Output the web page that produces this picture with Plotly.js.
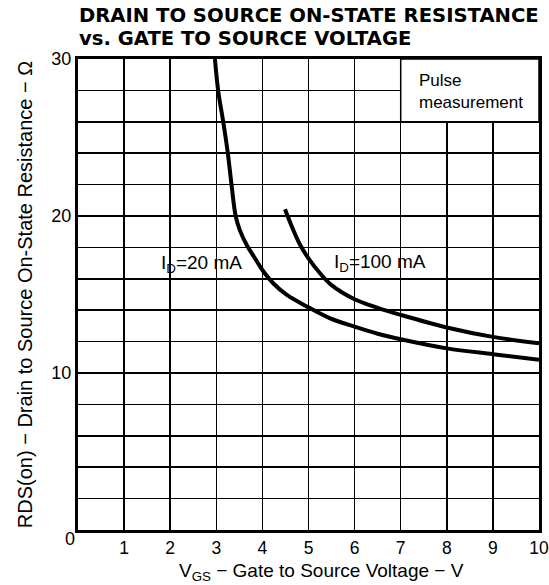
<!DOCTYPE html>
<html>
<head>
<meta charset="utf-8">
<script src="https://cdn.plot.ly/plotly-3.0.1.min.js"></script>
<style>
html,body{margin:0;padding:0;background:#fff;}
#chart{width:549px;height:585px;}
</style>
</head>
<body>
<div id="chart"></div>
<script>
// Data
const vgs20 = [2.97, 3.04, 3.15, 3.25, 3.33, 3.42, 3.51, 3.66, 3.84, 4.0, 4.24, 4.53, 5.0, 5.47, 6.0, 6.5, 7.0, 8.0, 9.0, 10.0];
const rds20 = [30, 28, 26, 24, 22, 20, 19.1, 18.15, 17.3, 16.56, 15.7, 14.97, 14.18, 13.48, 12.95, 12.5, 12.15, 11.57, 11.2, 10.85];
const vgs100 = [4.49, 4.64, 4.82, 5.0, 5.25, 5.5, 6.0, 6.5, 7.0, 8.0, 9.0, 10.0];
const rds100 = [20.43, 19.32, 18.15, 17.3, 16.35, 15.6, 14.7, 14.15, 13.7, 12.9, 12.3, 11.9];

const xTickVals = [1, 2, 3, 4, 5, 6, 7, 8, 9, 10];
const xTickText = ['1', '2', '3', '4', '5', '6', '7', '8', '9', '10'];
const yTickVals = [10, 20, 30];
const yTickText = ['10', '20', '30'];
const originLabel = '0';

const titleLines = ['DRAIN TO SOURCE ON-STATE RESISTANCE', 'vs. GATE TO SOURCE VOLTAGE'];
const xTitle = 'V<sub>GS</sub> − Gate to Source Voltage − V';
const yTitle = 'RDS(on) − Drain to Source On-State Resistance − Ω';
const curveLabels = ['I<sub>D</sub>=20 mA', 'I<sub>D</sub>=100 mA'];
const noteText = 'Pulse<br>measurement';

const labelFont = 'Liberation Sans, Arial, Helvetica, sans-serif';
const lineStyle = {color: '#000', width: 4, shape: 'spline', smoothing: 1};

const traces = [
  {x: vgs20, y: rds20, mode: 'lines', line: lineStyle, name: 'ID = 20 mA', hoverinfo: 'skip'},
  {x: vgs100, y: rds100, mode: 'lines', line: lineStyle, name: 'ID = 100 mA', hoverinfo: 'skip'}
];

const titleFont = {family: 'DejaVu Sans, sans-serif', size: 19.6, weight: 'bold', color: '#000'};

const layout = {
  width: 549, height: 585,
  margin: {l: 78, r: 10, t: 59, b: 55},
  paper_bgcolor: '#fff', plot_bgcolor: '#fff',
  showlegend: false,
  font: {family: labelFont, color: '#000', size: 17},
  xaxis: {
    range: [0, 10], tickmode: 'array', tickvals: xTickVals, ticktext: xTickText,
    showgrid: true, gridcolor: '#000', gridwidth: 1.5, zeroline: false,
    minor: {dtick: 1, showgrid: true, gridcolor: '#000', gridwidth: 1.5},
    showline: true, linecolor: '#000', linewidth: 3, mirror: true,
    ticks: '', tickfont: {size: 17.5},
    fixedrange: true
  },
  yaxis: {
    range: [0, 30], tickmode: 'array', tickvals: yTickVals, ticktext: yTickText,
    showgrid: true, gridcolor: '#000', gridwidth: 1.5, zeroline: false,
    minor: {dtick: 2, showgrid: true, gridcolor: '#000', gridwidth: 1.5},
    showline: true, linecolor: '#000', linewidth: 3, mirror: true,
    ticks: '', tickfont: {size: 18},
    title: {text: yTitle, font: {size: 20}, standoff: 14},
    fixedrange: true
  },
  shapes: [
    {type: 'rect', xref: 'x', yref: 'y', x0: 7, x1: 10, y0: 26, y1: 30,
     fillcolor: '#fff', line: {color: '#000', width: 1.5}, layer: 'between'}
  ],
  annotations: [
    {xref: 'paper', yref: 'paper', x: -0.002, y: (530 - 15) / 471, xanchor: 'left', yanchor: 'middle',
     text: titleLines[0], showarrow: false, font: titleFont},
    {xref: 'paper', yref: 'paper', x: -0.002, y: (530 - 38) / 471, xanchor: 'left', yanchor: 'middle',
     text: titleLines[1], showarrow: false, font: titleFont},
    {xref: 'paper', yref: 'paper', x: (321 - 78) / 461, y: (530 - 572) / 471, xanchor: 'center', yanchor: 'middle',
     text: xTitle, showarrow: false, font: {size: 19}},
    {xref: 'paper', yref: 'paper', x: -0.017, y: -0.019, xanchor: 'center', yanchor: 'middle',
     text: originLabel, showarrow: false, font: {size: 18}},
    {x: 7.35, y: 27.93, xref: 'x', yref: 'y', xanchor: 'left', yanchor: 'middle', align: 'left',
     text: noteText, showarrow: false, font: {size: 17}},
    {x: 2.67, y: 16.94, xref: 'x', yref: 'y', xanchor: 'center', yanchor: 'middle',
     text: curveLabels[0], showarrow: false, font: {size: 19}},
    {x: 6.56, y: 17.0, xref: 'x', yref: 'y', xanchor: 'center', yanchor: 'middle',
     text: curveLabels[1], showarrow: false, font: {size: 19}}
  ]
};

Plotly.newPlot('chart', traces, layout, {displayModeBar: false, staticPlot: true});
</script>
</body>
</html>
